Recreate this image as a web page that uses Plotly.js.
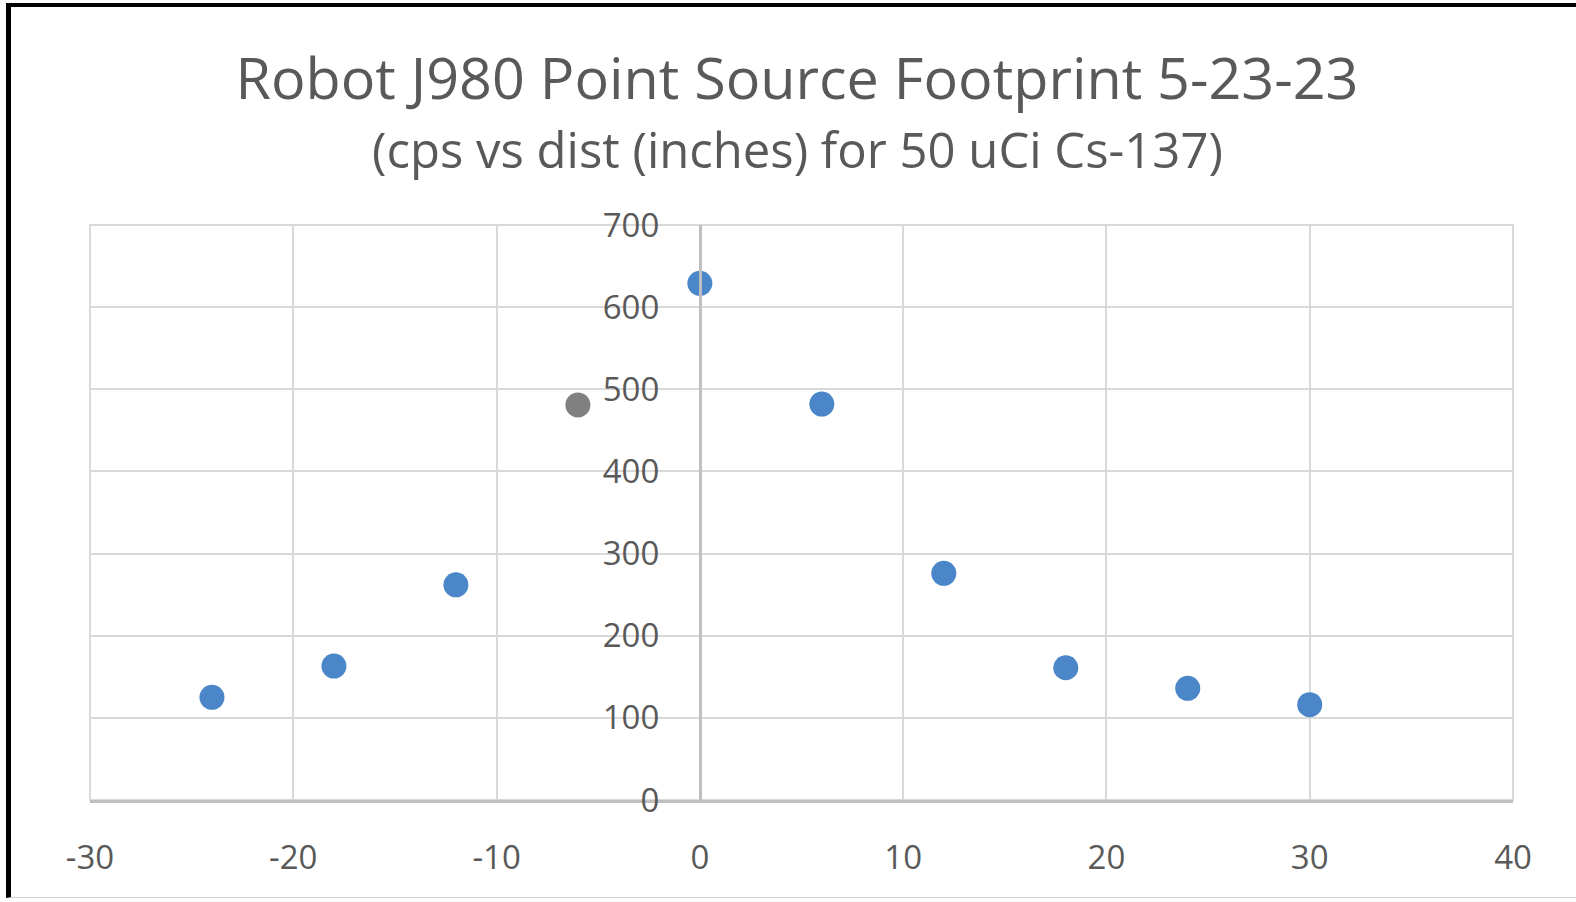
<!DOCTYPE html>
<html>
<head>
<meta charset="utf-8">
<script src="https://cdn.plot.ly/plotly-3.0.1.min.js"></script>
<style>
html,body{margin:0;padding:0;background:#fff;}
#chart{position:absolute;left:0;top:0;width:1576px;height:902px;}
#frame{position:absolute;left:6px;top:3px;width:1570px;height:895px;border-top:4px solid #000;border-left:5px solid #000;border-bottom:1px solid #cfcfcf;pointer-events:none;box-sizing:border-box;}
</style>
</head>
<body>
<div id="chart"></div>
<div id="frame"></div>
<script>
// distance (inches)
const distance = [-24, -18, -12, -6, 0, 6, 12, 18, 24, 30];
// counts per second
const cps = [125, 163, 262, 481, 629, 482, 276, 161, 136, 116];
const pointColors = ['#4a86c8','#4a86c8','#4a86c8','#808080','#4a86c8','#4a86c8','#4a86c8','#4a86c8','#4a86c8','#4a86c8'];

const xTicks = [-30, -20, -10, 0, 10, 20, 30, 40];
const yTicks = [0, 100, 200, 300, 400, 500, 600, 700];

const titleText = 'Robot J980 Point Source Footprint 5-23-23';
const subtitleText = '(cps vs dist (inches) for 50 uCi Cs-137)';

const xMin = -30, xMax = 40;
const fontFam = '"Open Sans", "Noto Sans", sans-serif';
const textColor = '#595959';

const trace = {
  type: 'scatter',
  mode: 'markers',
  x: distance,
  y: cps,
  marker: {size: 25, color: pointColors, line: {width: 0}},
  hoverinfo: 'x+y',
  showlegend: false
};

const layout = {
  width: 1576,
  height: 902,
  margin: {l: 90, r: 63, t: 225, b: 102},
  paper_bgcolor: '#ffffff',
  plot_bgcolor: '#ffffff',
  title: {
    text: titleText,
    font: {family: fontFam, size: 57.5, color: textColor},
    x: 797/1576, xanchor: 'center', xref: 'container',
    y: 1 - 79/902, yanchor: 'middle', yref: 'container'
  },
  annotations: [{
    text: subtitleText,
    xref: 'paper', yref: 'paper',
    x: (797-90)/1423, y: (800-149)/575,
    xanchor: 'center', yanchor: 'middle',
    showarrow: false,
    font: {family: fontFam, size: 49, color: textColor}
  }],
  shapes: [{
    type: 'rect', xref: 'paper', yref: 'paper',
    x0: 0, x1: 1, y0: 0, y1: 1,
    line: {color: '#d9d9d9', width: 2},
    layer: 'below'
  }],
  xaxis: {
    range: [xMin, xMax],
    tickvals: xTicks,
    ticktext: xTicks.map(String),
    showgrid: true,
    gridcolor: '#d9d9d9',
    gridwidth: 2,
    zeroline: false,
    showline: true,
    linecolor: '#bfbfbf',
    linewidth: 3,
    ticks: '',
    ticklabelstandoff: 26,
    tickfont: {family: fontFam, size: 33, color: textColor},
    fixedrange: true
  },
  yaxis: {
    range: [0, 700],
    tickvals: yTicks,
    ticktext: yTicks.map(String),
    anchor: 'free',
    position: (0 - xMin) / (xMax - xMin),
    showgrid: true,
    gridcolor: '#d9d9d9',
    gridwidth: 2,
    zeroline: false,
    showline: true,
    linecolor: '#bfbfbf',
    linewidth: 3,
    ticks: '',
    ticklabelstandoff: 33,
    tickfont: {family: fontFam, size: 33, color: textColor},
    fixedrange: true
  }
};

Plotly.newPlot('chart', [trace], layout, {displayModeBar: false, staticPlot: true});
</script>
</body>
</html>
